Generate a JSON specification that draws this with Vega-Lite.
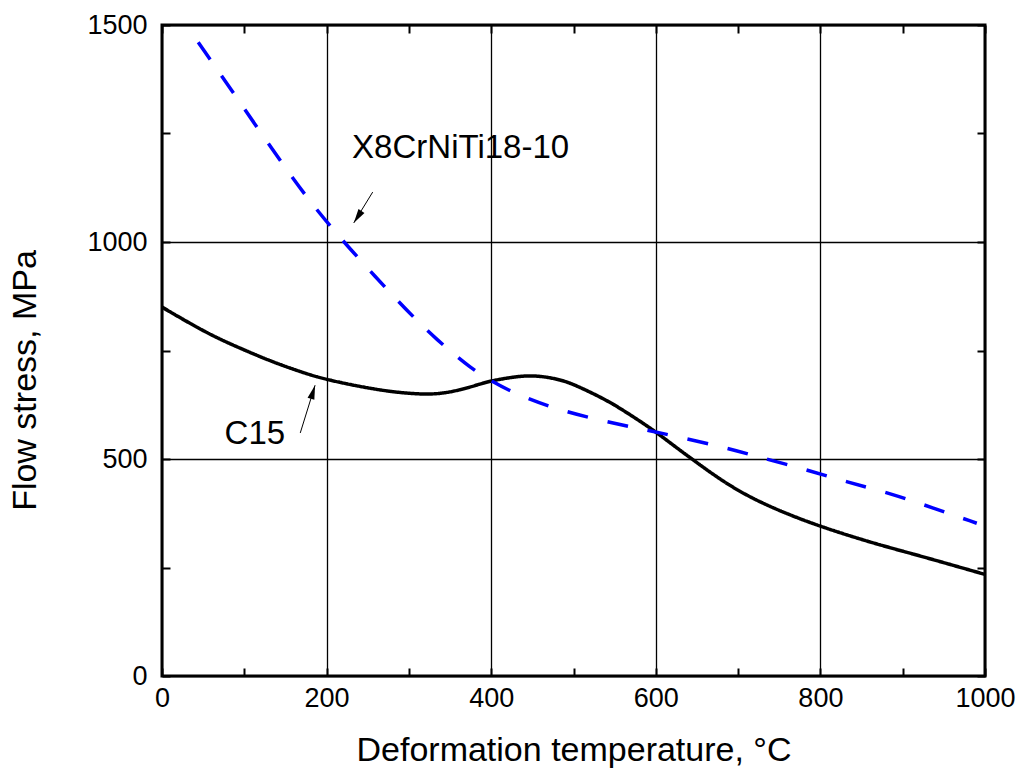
{
  "$schema": "https://vega.github.io/schema/vega-lite/v6.json",
  "width": 823,
  "height": 651,
  "autosize": {"type": "none"},
  "padding": {"left": 162, "top": 25, "right": 32, "bottom": 99},
  "background": "white",
  "config": {
    "font": "Liberation Sans",
    "view": {"stroke": "black", "strokeWidth": 3},
    "axis": {
      "labelFont": "Liberation Sans",
      "titleFont": "Liberation Sans",
      "labelFontSize": 27,
      "titleFontSize": 34,
      "titleFontWeight": "normal",
      "labelColor": "black",
      "titleColor": "black",
      "tickColor": "black",
      "tickWidth": 2,
      "tickSize": -8,
      "domain": false,
      "gridColor": "black",
      "gridWidth": 1.3
    }
  },
  "datasets": {
    "curves": [
      {"series": "C15", "T": 0, "stress": 850},
      {"series": "C15", "T": 54, "stress": 790},
      {"series": "C15", "T": 95, "stress": 755},
      {"series": "C15", "T": 135, "stress": 723},
      {"series": "C15", "T": 176, "stress": 696},
      {"series": "C15", "T": 198, "stress": 684},
      {"series": "C15", "T": 237, "stress": 668},
      {"series": "C15", "T": 277, "stress": 655},
      {"series": "C15", "T": 314, "stress": 649},
      {"series": "C15", "T": 338, "stress": 650},
      {"series": "C15", "T": 362, "stress": 659},
      {"series": "C15", "T": 382, "stress": 670},
      {"series": "C15", "T": 399, "stress": 680},
      {"series": "C15", "T": 427, "stress": 689},
      {"series": "C15", "T": 443, "stress": 692},
      {"series": "C15", "T": 459, "stress": 691},
      {"series": "C15", "T": 476, "stress": 686},
      {"series": "C15", "T": 492, "stress": 678},
      {"series": "C15", "T": 508, "stress": 665},
      {"series": "C15", "T": 528, "stress": 647},
      {"series": "C15", "T": 548, "stress": 627},
      {"series": "C15", "T": 573, "stress": 597},
      {"series": "C15", "T": 599, "stress": 564},
      {"series": "C15", "T": 621, "stress": 532},
      {"series": "C15", "T": 646, "stress": 497},
      {"series": "C15", "T": 670, "stress": 464},
      {"series": "C15", "T": 694, "stress": 434},
      {"series": "C15", "T": 719, "stress": 408},
      {"series": "C15", "T": 743, "stress": 387},
      {"series": "C15", "T": 771, "stress": 365},
      {"series": "C15", "T": 800, "stress": 345},
      {"series": "C15", "T": 832, "stress": 325},
      {"series": "C15", "T": 872, "stress": 302},
      {"series": "C15", "T": 913, "stress": 281},
      {"series": "C15", "T": 954, "stress": 259},
      {"series": "C15", "T": 1000, "stress": 234},
      {"series": "X8CrNiTi18-10", "T": 44, "stress": 1460},
      {"series": "X8CrNiTi18-10", "T": 91, "stress": 1332},
      {"series": "X8CrNiTi18-10", "T": 153, "stress": 1161},
      {"series": "X8CrNiTi18-10", "T": 187, "stress": 1076},
      {"series": "X8CrNiTi18-10", "T": 222, "stress": 997},
      {"series": "X8CrNiTi18-10", "T": 293, "stress": 850},
      {"series": "X8CrNiTi18-10", "T": 334, "stress": 774},
      {"series": "X8CrNiTi18-10", "T": 378, "stress": 705},
      {"series": "X8CrNiTi18-10", "T": 400, "stress": 680},
      {"series": "X8CrNiTi18-10", "T": 425, "stress": 654},
      {"series": "X8CrNiTi18-10", "T": 475, "stress": 617},
      {"series": "X8CrNiTi18-10", "T": 526, "stress": 592},
      {"series": "X8CrNiTi18-10", "T": 577, "stress": 571},
      {"series": "X8CrNiTi18-10", "T": 601, "stress": 562},
      {"series": "X8CrNiTi18-10", "T": 682, "stress": 528},
      {"series": "X8CrNiTi18-10", "T": 730, "stress": 502},
      {"series": "X8CrNiTi18-10", "T": 784, "stress": 475},
      {"series": "X8CrNiTi18-10", "T": 832, "stress": 447},
      {"series": "X8CrNiTi18-10", "T": 885, "stress": 421},
      {"series": "X8CrNiTi18-10", "T": 937, "stress": 387},
      {"series": "X8CrNiTi18-10", "T": 990, "stress": 352}
    ],
    "labels": [
      {"label": "X8CrNiTi18-10", "T": 231, "stress": 1194},
      {"label": "C15", "T": 76, "stress": 535}
    ],
    "arrows": [
      {"name": "X8CrNiTi18-10", "T": 256, "stress": 1115, "T2": 233, "stress2": 1044},
      {"name": "C15", "T": 168, "stress": 560, "T2": 186, "stress2": 670}
    ]
  },
  "layer": [
    {
      "data": {"name": "curves"},
      "mark": {"type": "line", "interpolate": "basis", "strokeWidth": 3.5},
      "encoding": {
        "x": {
          "field": "T", "type": "quantitative",
          "scale": {"domain": [0, 1000], "nice": false},
          "axis": {
            "orient": "bottom",
            "title": "Deformation temperature, °C",
            "values": [0, 100, 200, 300, 400, 500, 600, 700, 800, 900, 1000],
            "format": "d",
            "labelExpr": "datum.value % 200 === 0 ? datum.label : ''",
            "labelPadding": 17,
            "labelFlush": false,
            "labelOverlap": false,
            "titlePadding": 22,
            "grid": true,
            "gridOpacity": {"condition": {"test": "datum.value % 200 === 0", "value": 1}, "value": 0}
          }
        },
        "y": {
          "field": "stress", "type": "quantitative",
          "scale": {"domain": [0, 1500], "nice": false},
          "axis": {
            "orient": "left",
            "title": "Flow stress, MPa",
            "values": [0, 250, 500, 750, 1000, 1250, 1500],
            "format": "d",
            "labelExpr": "datum.value % 500 === 0 ? datum.label : ''",
            "labelPadding": 23,
            "labelFlush": false,
            "labelOverlap": false,
            "titlePadding": 44,
            "titleY": 355,
            "grid": true,
            "gridOpacity": {"condition": {"test": "datum.value % 500 === 0", "value": 1}, "value": 0}
          }
        },
        "color": {
          "field": "series", "type": "nominal",
          "scale": {"domain": ["C15", "X8CrNiTi18-10"], "range": ["#000000", "#0000ff"]},
          "legend": null
        },
        "strokeDash": {
          "field": "series", "type": "nominal",
          "scale": {"domain": ["C15", "X8CrNiTi18-10"], "range": [[1, 0], [21, 20]]},
          "legend": null
        }
      }
    },
    {
      "data": {"name": "labels"},
      "mark": {"type": "text", "align": "left", "baseline": "alphabetic", "fontSize": 33, "font": "Liberation Sans", "color": "black"},
      "encoding": {
        "x": {
          "field": "T", "type": "quantitative",
          "axis": {
            "orient": "top", "title": null, "labels": false, "grid": false,
            "values": [0, 100, 200, 300, 400, 500, 600, 700, 800, 900, 1000]
          }
        },
        "y": {
          "field": "stress", "type": "quantitative",
          "axis": {
            "orient": "right", "title": null, "labels": false, "grid": false,
            "values": [0, 250, 500, 750, 1000, 1250, 1500]
          }
        },
        "text": {"field": "label"}
      }
    },
    {
      "data": {"name": "arrows"},
      "mark": {"type": "rule", "color": "black", "strokeWidth": 1},
      "encoding": {
        "x": {"field": "T", "type": "quantitative", "axis": null},
        "y": {"field": "stress", "type": "quantitative", "axis": null},
        "x2": {"field": "T2"},
        "y2": {"field": "stress2"}
      }
    },
    {
      "data": {"name": "arrows"},
      "transform": [{"filter": "datum.name === 'C15'"}],
      "mark": {"type": "point", "shape": "M0,0 L-0.5,2 L0.5,2 Z", "filled": true, "color": "black", "size": 200, "angle": 17, "opacity": 1, "strokeWidth": 0},
      "encoding": {
        "x": {"field": "T2", "type": "quantitative", "axis": null},
        "y": {"field": "stress2", "type": "quantitative", "axis": null}
      }
    },
    {
      "data": {"name": "arrows"},
      "transform": [{"filter": "datum.name === 'X8CrNiTi18-10'"}],
      "mark": {"type": "point", "shape": "M0,0 L-0.5,2 L0.5,2 Z", "filled": true, "color": "black", "size": 200, "angle": 213, "opacity": 1, "strokeWidth": 0},
      "encoding": {
        "x": {"field": "T2", "type": "quantitative", "axis": null},
        "y": {"field": "stress2", "type": "quantitative", "axis": null}
      }
    }
  ],
  "resolve": {"axis": {"x": "independent", "y": "independent"}}
}
